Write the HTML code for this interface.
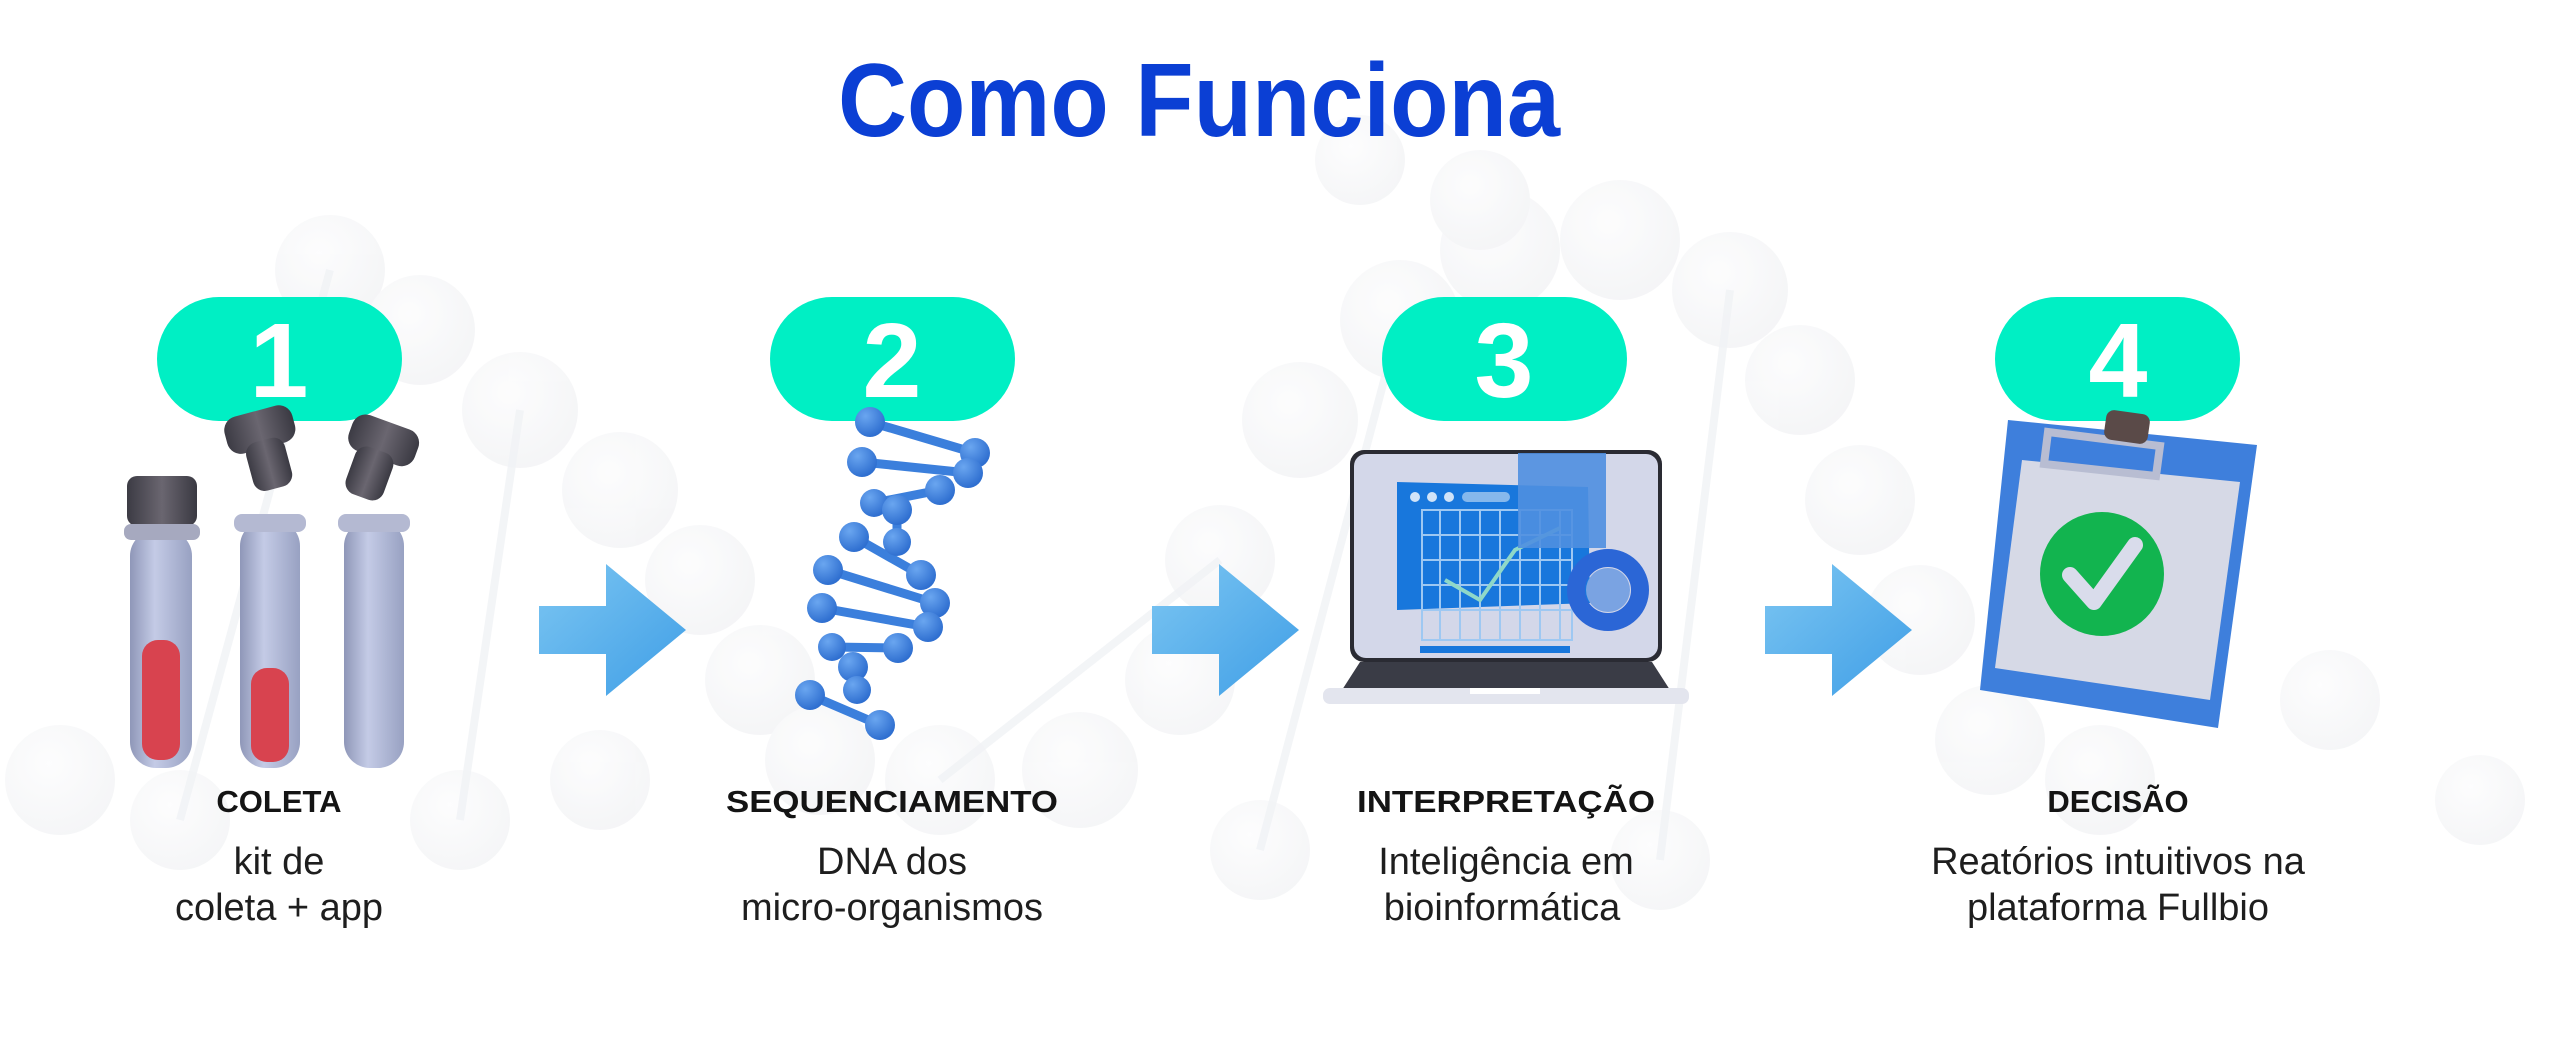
<!DOCTYPE html>
<html><head><meta charset="utf-8"><style>
html,body{margin:0;padding:0;background:#fff;width:2560px;height:1052px;overflow:hidden}
svg{display:block}
.t{font-family:"Liberation Sans",sans-serif}
</style></head><body>
<svg width="2560" height="1052" viewBox="0 0 2560 1052" xmlns="http://www.w3.org/2000/svg">
<defs>
<radialGradient id="bg" cx="40%" cy="35%" r="65%"><stop offset="0" stop-color="#fcfcfd"/><stop offset="1" stop-color="#f1f2f4"/></radialGradient>
<radialGradient id="bb" cx="35%" cy="30%" r="70%"><stop offset="0" stop-color="#6aa6f0"/><stop offset="1" stop-color="#2f6fd0"/></radialGradient>
<linearGradient id="ar" x1="0" y1="0" x2="1" y2="1"><stop offset="0" stop-color="#7cc6f2"/><stop offset="1" stop-color="#3f9ee6"/></linearGradient>
<linearGradient id="tube" x1="0" x2="1"><stop offset="0" stop-color="#8f97b8"/><stop offset="0.4" stop-color="#c4cbe6"/><stop offset="1" stop-color="#98a1c2"/></linearGradient>
<linearGradient id="cap" x1="0" x2="1"><stop offset="0" stop-color="#3c3b44"/><stop offset="0.5" stop-color="#6a6670"/><stop offset="1" stop-color="#3a3942"/></linearGradient>
</defs>
<!-- faint DNA background -->
<g opacity="0.7" fill="url(#bg)">
<circle cx="330" cy="270" r="55"/><circle cx="420" cy="330" r="55"/><circle cx="520" cy="410" r="58"/><circle cx="620" cy="490" r="58"/><circle cx="700" cy="580" r="55"/><circle cx="760" cy="680" r="55"/><circle cx="820" cy="760" r="55"/><circle cx="940" cy="780" r="55"/><circle cx="1080" cy="770" r="58"/><circle cx="1180" cy="680" r="55"/><circle cx="1220" cy="560" r="55"/><circle cx="1300" cy="420" r="58"/><circle cx="1400" cy="320" r="60"/><circle cx="1500" cy="250" r="60"/><circle cx="1620" cy="240" r="60"/><circle cx="1730" cy="290" r="58"/><circle cx="1800" cy="380" r="55"/><circle cx="1860" cy="500" r="55"/><circle cx="1920" cy="620" r="55"/><circle cx="1990" cy="740" r="55"/><circle cx="2100" cy="780" r="55"/><circle cx="60" cy="780" r="55"/><circle cx="180" cy="820" r="50"/><circle cx="460" cy="820" r="50"/><circle cx="600" cy="780" r="50"/><circle cx="1260" cy="850" r="50"/><circle cx="1660" cy="860" r="50"/><circle cx="2330" cy="700" r="50"/><circle cx="2480" cy="800" r="45"/><circle cx="1360" cy="160" r="45"/><circle cx="1480" cy="200" r="50"/>
</g>
<g stroke="#f1f3f6" stroke-width="8" opacity="0.8"><line x1="330" y1="270" x2="180" y2="820"/><line x1="520" y1="410" x2="460" y2="820"/><line x1="1400" y1="320" x2="1260" y2="850"/><line x1="1730" y1="290" x2="1660" y2="860"/><line x1="940" y1="780" x2="1220" y2="560"/></g>

<text class="t" x="838" y="136" font-size="104" font-weight="bold" fill="#0b3fd4" textLength="722" lengthAdjust="spacingAndGlyphs">Como Funciona</text>

<!-- pills -->
<g fill="#00efc4">
<rect x="157" y="297" width="245" height="124" rx="62"/>
<rect x="770" y="297" width="245" height="124" rx="62"/>
<rect x="1382" y="297" width="245" height="124" rx="62"/>
<rect x="1995" y="297" width="245" height="124" rx="62"/>
</g>
<g class="t" fill="#fff" font-size="106" font-weight="bold" text-anchor="middle">
<text x="279" y="397">1</text><text x="892" y="397">2</text><text x="1504" y="397">3</text><text x="2118" y="397">4</text>
</g>

<!-- arrows -->
<g fill="url(#ar)">
<path d="M539 606 h67 v-42 l80 66 l-80 66 v-42 h-67z"/>
<path d="M1152 606 h67 v-42 l80 66 l-80 66 v-42 h-67z"/>
<path d="M1765 606 h67 v-42 l80 66 l-80 66 v-42 h-67z"/>
</g>

<!-- tubes -->
<g>
<rect x="130" y="530" width="62" height="238" rx="26" fill="url(#tube)"/>
<rect x="142" y="640" width="38" height="120" rx="16" fill="#d8434f"/>
<rect x="127" y="476" width="70" height="50" rx="10" fill="url(#cap)"/>
<rect x="124" y="524" width="76" height="16" rx="7" fill="#a6a9bf"/>
<rect x="240" y="520" width="60" height="248" rx="26" fill="url(#tube)"/>
<rect x="251" y="668" width="38" height="94" rx="16" fill="#d8434f"/>
<rect x="234" y="514" width="72" height="18" rx="8" fill="#b4b9d2"/>
<rect x="344" y="520" width="60" height="248" rx="26" fill="url(#tube)"/>
<rect x="338" y="514" width="72" height="18" rx="8" fill="#b4b9d2"/>
<g transform="rotate(-15 262 430)"><rect x="225" y="410" width="70" height="38" rx="14" fill="url(#cap)"/><rect x="240" y="440" width="40" height="50" rx="12" fill="url(#cap)"/></g>
<g transform="rotate(20 378 450)"><rect x="345" y="420" width="70" height="38" rx="14" fill="url(#cap)"/><rect x="358" y="450" width="40" height="50" rx="12" fill="url(#cap)"/></g>
</g>

<!-- DNA -->
<g stroke="#3b7fdc" stroke-width="9" stroke-linecap="round">
<line x1="870" y1="422" x2="975" y2="453"/><line x1="862" y1="462" x2="968" y2="473"/><line x1="874" y1="503" x2="940" y2="490"/><line x1="897" y1="510" x2="897" y2="542"/><line x1="854" y1="537" x2="921" y2="575"/><line x1="828" y1="570" x2="935" y2="603"/><line x1="822" y1="608" x2="928" y2="627"/><line x1="832" y1="647" x2="898" y2="648"/><line x1="853" y1="667" x2="857" y2="690"/><line x1="810" y1="695" x2="880" y2="725"/>
</g>
<g fill="url(#bb)">
<circle cx="870" cy="422" r="15"/><circle cx="975" cy="453" r="15"/><circle cx="862" cy="462" r="15"/><circle cx="968" cy="473" r="15"/><circle cx="874" cy="503" r="14"/><circle cx="940" cy="490" r="15"/><circle cx="897" cy="510" r="15"/><circle cx="897" cy="542" r="14"/><circle cx="854" cy="537" r="15"/><circle cx="921" cy="575" r="15"/><circle cx="828" cy="570" r="15"/><circle cx="935" cy="603" r="15"/><circle cx="822" cy="608" r="15"/><circle cx="928" cy="627" r="15"/><circle cx="832" cy="647" r="14"/><circle cx="898" cy="648" r="15"/><circle cx="853" cy="667" r="15"/><circle cx="857" cy="690" r="14"/><circle cx="810" cy="695" r="15"/><circle cx="880" cy="725" r="15"/>
</g>

<!-- laptop -->
<g>
<rect x="1350" y="450" width="312" height="212" rx="14" fill="#2a2b33"/>
<rect x="1354" y="454" width="304" height="204" rx="12" fill="#d3d7e9"/>
<path d="M1397 482 L1588 487 L1590 603 L1397 610 Z" fill="#1877dc"/>
<rect x="1420" y="646" width="150" height="7" fill="#1877dc"/>
<g stroke="#9ec8f2" stroke-width="2" fill="none"><rect x="1422" y="510" width="150" height="130"/><path d="M1422 535 h150 M1422 560 h150 M1422 585 h150 M1422 610 h150 M1440 510 v130 M1460 510 v130 M1480 510 v130 M1500 510 v130 M1520 510 v130 M1540 510 v130 M1560 510 v130"/></g>
<polyline points="1445,580 1480,600 1515,550 1560,528" stroke="#8fd8c8" stroke-width="4" fill="none"/>
<rect x="1518" y="453" width="88" height="95" fill="#4f8fe0" opacity="0.9"/>
<g fill="#fff" opacity="0.8"><rect x="1410" y="492" width="10" height="10" rx="5"/><rect x="1427" y="492" width="10" height="10" rx="5"/><rect x="1444" y="492" width="10" height="10" rx="5"/><rect x="1462" y="492" width="48" height="10" rx="5" opacity="0.6"/></g>
<circle cx="1608" cy="590" r="32" fill="none" stroke="#2b66d6" stroke-width="18"/>
<circle cx="1608" cy="590" r="22" fill="#7aa3e2"/>
<path d="M1360 662 H1652 L1670 690 H1342 Z" fill="#3a3c46"/>
<rect x="1323" y="688" width="366" height="16" rx="7" fill="#e3e5ee"/>
<rect x="1470" y="688" width="70" height="6" fill="#fff"/>
</g>

<!-- clipboard -->
<g>
<path d="M2008 420 L2257 445 L2218 728 L1980 690 Z" fill="#3e7fdc"/>
<path d="M2022 460 L2240 482 L2210 700 L1995 668 Z" fill="#d6d9e6"/>
<path d="M2048 432 L2160 446 L2156 476 L2044 464 Z" fill="none" stroke="#b8bdd2" stroke-width="8"/>
<rect x="2105" y="412" width="44" height="30" rx="8" fill="#5a4a48" transform="rotate(8 2127 427)"/>
<circle cx="2102" cy="574" r="62" fill="#12b44f"/>
<path d="M2070 575 L2094 602 L2135 545" stroke="#d9dceb" stroke-width="16" fill="none" stroke-linecap="round" stroke-linejoin="round"/>
</g>

<!-- labels -->
<g class="t" text-anchor="middle" fill="#141414">
<g font-size="31" font-weight="bold">
<text x="279" y="812">COLETA</text><text x="892" y="812" textLength="332" lengthAdjust="spacingAndGlyphs">SEQUENCIAMENTO</text><text x="1506" y="812" textLength="298" lengthAdjust="spacingAndGlyphs">INTERPRETAÇÃO</text><text x="2118" y="812">DECISÃO</text>
</g>
<g font-size="38" fill="#1e1e1e">
<text x="279" y="874">kit de</text><text x="279" y="920">coleta + app</text>
<text x="892" y="874">DNA dos</text><text x="892" y="920">micro-organismos</text>
<text x="1506" y="874">Inteligência em</text><text x="1502" y="920">bioinformática</text>
<text x="2118" y="874">Reatórios intuitivos na</text><text x="2118" y="920">plataforma Fullbio</text>
</g>
</g>
</svg>
</body></html>
